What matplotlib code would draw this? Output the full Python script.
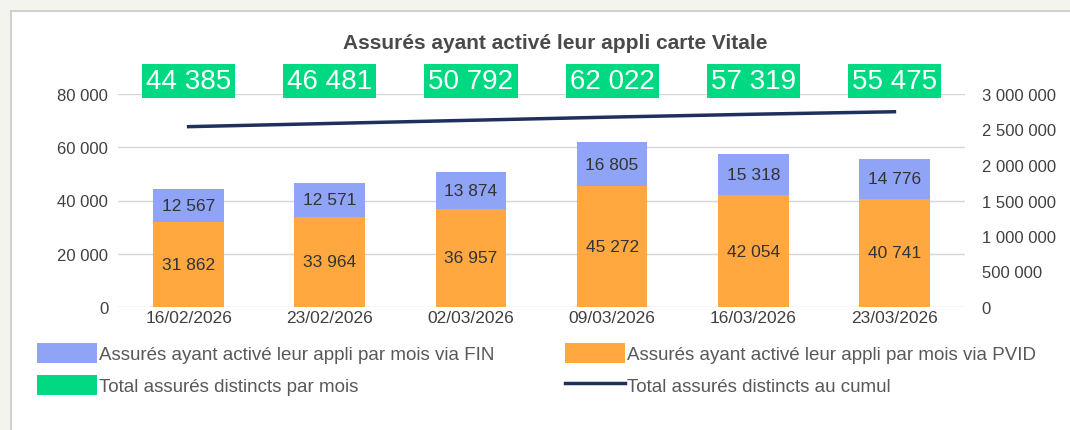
import matplotlib
matplotlib.use("Agg")
import matplotlib.pyplot as plt
from matplotlib.patches import Patch, Rectangle
from matplotlib.lines import Line2D
from matplotlib.ticker import FuncFormatter, FixedLocator

dates = ["16/02/2026", "23/02/2026", "02/03/2026", "09/03/2026", "16/03/2026", "23/03/2026"]
pvid = [31862, 33964, 36957, 45272, 42054, 40741]
fin = [12567, 12571, 13874, 16805, 15318, 14776]
total_mois = [44385, 46481, 50792, 62022, 57319, 55475]
cumul = [2540000, 2585000, 2630000, 2675000, 2715000, 2750000]

c_fin = "#8FA3F7"
c_pvid = "#FFA83F"
c_green = "#00D882"
c_line = "#1F2F5E"
txt = "#404040"

plt.rcParams['font.family'] = ['Liberation Sans', 'DejaVu Sans']

fig = plt.figure(figsize=(10.7, 4.31), dpi=100)
fig.patch.set_facecolor("#F4F4EF")
fig.patches.append(Rectangle((11/1070, -0.01), 1 - 11/1070 + 0.01, 1 - 12/431 + 0.01, transform=fig.transFigure,
                             facecolor="white", edgecolor="#D0D0D0", lw=1.5, zorder=-10))

ax = fig.add_axes([118/1070, 1 - 308/431, (965 - 118)/1070, (308 - 95)/431])
ax.patch.set_alpha(0)
x = list(range(len(dates)))
w = 0.5
ax.bar(x, pvid, width=w, color=c_pvid, zorder=2)
ax.bar(x, fin, width=w, bottom=pvid, color=c_fin, zorder=2)
for i in x:
    ax.text(i, pvid[i] / 2, f"{pvid[i]:,}".replace(",", " "), ha="center", va="center",
            fontsize=12.5, color="#333333", zorder=3)
    ax.text(i, pvid[i] + fin[i] / 2, f"{fin[i]:,}".replace(",", " "), ha="center", va="center",
            fontsize=12.5, color="#333333", zorder=3)

ax.set_ylim(0, 80000)
ax.set_xlim(-0.5, len(dates) - 0.5)
ax.yaxis.set_major_locator(FixedLocator([0, 20000, 40000, 60000, 80000]))
fmt = FuncFormatter(lambda v, p: f"{int(v):,}".replace(",", " "))
ax.yaxis.set_major_formatter(fmt)
ax.set_xticks(x)
ax.set_xticklabels(dates)
ax.grid(axis="y", color="#D6D6D6", lw=1, zorder=0)
ax.set_axisbelow(True)
for s in ax.spines.values():
    s.set_visible(False)
ax.tick_params(axis="y", length=0, labelsize=12, labelcolor=txt, pad=7)
ax.tick_params(axis="x", length=0, labelsize=12.5, labelcolor=txt, pad=2)

ax2 = ax.twinx()
ax2.patch.set_alpha(0)
ax2.plot(x, cumul, color=c_line, lw=2.5, zorder=4)
ax2.set_ylim(0, 3000000)
ax2.yaxis.set_major_locator(FixedLocator([0, 500000, 1000000, 1500000, 2000000, 2500000, 3000000]))
ax2.yaxis.set_major_formatter(fmt)
for s in ax2.spines.values():
    s.set_visible(False)
ax2.tick_params(axis="y", length=0, labelsize=12, labelcolor=txt, pad=12)
for i in x:
    ax2.text(i, 3000000, f"{total_mois[i]:,}".replace(",", " "), ha="center", va="bottom",
             fontsize=20, color="white", zorder=5, clip_on=False,
             bbox=dict(boxstyle="square,pad=0.15", facecolor=c_green, edgecolor="none"))

fig.text(555/1070, 1 - 44/431, "Assurés ayant activé leur appli carte Vitale", ha="center",
         va="center", fontsize=15, fontweight="bold", color="#4A4A4A")

handles = [Patch(facecolor=c_fin, edgecolor="none"),
           Patch(facecolor=c_green, edgecolor="none"),
           Patch(facecolor=c_pvid, edgecolor="none"),
           Line2D([0], [0], color=c_line, lw=2.5)]
labels = ["Assurés ayant activé leur appli par mois via FIN",
          "Total assurés distincts par mois",
          "Assurés ayant activé leur appli par mois via PVID",
          "Total assurés distincts au cumul"]
leg = fig.legend(handles, labels, ncol=2, loc="upper left", bbox_to_anchor=(20/1070, 1 - 327/431),
                 frameon=False, fontsize=13.5, handlelength=3.2, handleheight=1.3, handletextpad=0.1,
                 columnspacing=3.8, labelspacing=0.6, labelcolor="#595959")

fig.savefig("out.png", dpi=100, facecolor=fig.get_facecolor())
